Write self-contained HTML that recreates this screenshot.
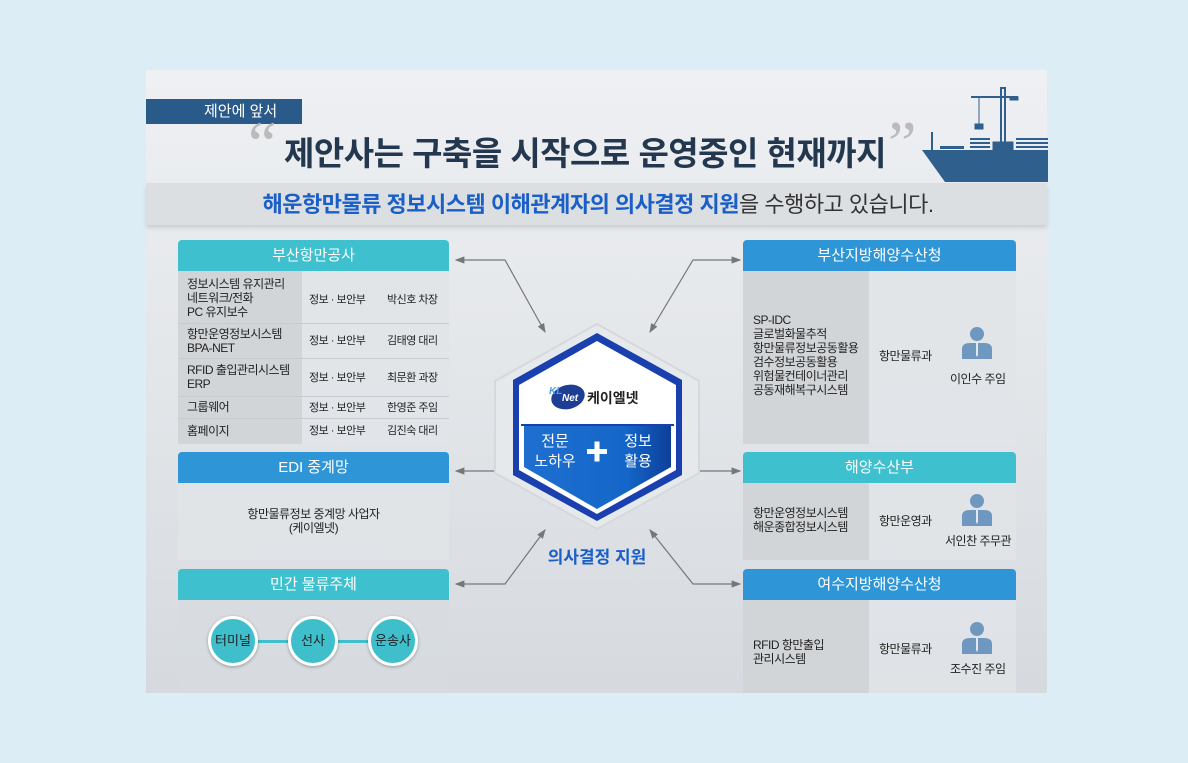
<!DOCTYPE html>
<html><head><meta charset="utf-8"><style>
*{margin:0;padding:0;box-sizing:border-box}
body{width:1188px;height:763px;background:#dcedf5;font-family:"Liberation Sans","Noto Sans CJK KR",sans-serif;position:relative;overflow:hidden}
.card{position:absolute;left:146px;top:70px;width:901px;height:623px;background:linear-gradient(180deg,#eef0f3 0%,#e4e7ea 45%,#d6dadf 100%)}
.abs{position:absolute}
.hd{position:absolute;height:31px;color:#fff;font-size:15px;text-align:center;line-height:31px;border-radius:4px 4px 0 0}
.teal{background:#3fc0cf}.blue{background:#2e96d6}
.body{position:absolute;background:rgba(225,228,231,.85)}
.c1{position:absolute;background:#d2d5d8}
.t{position:absolute;font-size:12px;color:#222;line-height:14px;letter-spacing:-.5px}
.circ{position:absolute;width:50px;height:50px;border-radius:50%;background:#3fbfcc;border:3px solid #fff;color:#222;font-size:13px;text-align:center;line-height:44px;box-shadow:0 1px 3px rgba(0,0,0,.3)}
</style></head><body>
<div class="card"></div>
<div class="abs" style="left:146px;top:183px;width:901px;height:42px;background:#dcdfe2;box-shadow:0 3px 4px rgba(0,0,0,.12)"></div>
<div class="abs" style="left:146px;top:99px;width:156px;height:25px;background:#2a5a8a;color:#fff;font-size:15px;line-height:25px;padding-left:58px">제안에 앞서</div>
<div class="abs" style="left:248px;top:112px;color:#bbb;font-size:64px;font-family:'Liberation Serif',serif;line-height:64px">“</div>
<div class="abs" style="left:888px;top:112px;color:#bbb;font-size:64px;font-family:'Liberation Serif',serif;line-height:64px">”</div>
<div class="abs" style="left:250px;top:133px;width:670px;text-align:center;font-size:33px;font-weight:bold;color:#23384f;letter-spacing:-.5px;line-height:42px">제안사는 구축을 시작으로 운영중인 현재까지</div>
<div class="abs" style="left:148px;top:191px;width:900px;text-align:center;font-size:22px;line-height:28px;color:#333;letter-spacing:-.5px"><b style="color:#1a5ec8">해운항만물류 정보시스템 이해관계자의 의사결정 지원</b>을 수행하고 있습니다.</div>
<svg class="abs" style="left:900px;top:80px" width="148" height="105" viewBox="0 0 148 105">
<g fill="#2f5f8c" stroke="#2f5f8c">
<rect x="101" y="8" width="4" height="56" fill="none" stroke-width="2"/>
<line x1="71" y1="17" x2="118" y2="17" stroke-width="2"/><rect x="110" y="17" width="8" height="3"/>
<line x1="79" y1="17" x2="79" y2="44" stroke-width="1"/><rect x="75" y="44" width="8" height="5"/>
<rect x="93" y="62" width="20" height="10"/>
<line x1="32" y1="52" x2="32" y2="74" stroke-width="2"/>
<rect x="40" y="66" width="24" height="3" stroke="none"/>
<rect x="70" y="58" width="20" height="2" stroke="none"/><rect x="70" y="62" width="20" height="2" stroke="none"/><rect x="70" y="66" width="20" height="2" stroke="none"/>
<rect x="116" y="58" width="32" height="2" stroke="none"/><rect x="116" y="62" width="32" height="2" stroke="none"/><rect x="116" y="66" width="32" height="2" stroke="none"/>
<polygon points="22,70 148,70 148,102 45,102" stroke="none"/></g></svg>

<!-- left -->
<div class="hd teal" style="left:178px;top:240px;width:271px">부산항만공사</div>
<div class="body" style="left:178px;top:271px;width:271px;height:173px"></div>
<div class="c1" style="left:178px;top:271px;width:124px;height:173px"></div>
<div class="abs" style="left:178px;top:323px;width:271px;height:1px;background:#c8cbce"></div>
<div class="abs" style="left:178px;top:358px;width:271px;height:1px;background:#c8cbce"></div>
<div class="abs" style="left:178px;top:396px;width:271px;height:1px;background:#c8cbce"></div>
<div class="abs" style="left:178px;top:418px;width:271px;height:1px;background:#c8cbce"></div>
<div class="t" style="left:187px;top:277px">정보시스템 유지관리<br>네트워크/전화<br>PC 유지보수</div>
<div class="t" style="left:187px;top:327px">항만운영정보시스템<br>BPA-NET</div>
<div class="t" style="left:187px;top:363px">RFID 출입관리시스템<br>ERP</div>
<div class="t" style="left:187px;top:400px">그룹웨어</div>
<div class="t" style="left:187px;top:424px">홈페이지</div>
<div class="t" style="left:309px;top:293px;font-size:11px">정보 · 보안부</div><div class="t" style="left:387px;top:293px;font-size:11px">박신호 차장</div>
<div class="t" style="left:309px;top:334px;font-size:11px">정보 · 보안부</div><div class="t" style="left:387px;top:334px;font-size:11px">김태영 대리</div>
<div class="t" style="left:309px;top:371px;font-size:11px">정보 · 보안부</div><div class="t" style="left:387px;top:371px;font-size:11px">최문환 과장</div>
<div class="t" style="left:309px;top:401px;font-size:11px">정보 · 보안부</div><div class="t" style="left:387px;top:401px;font-size:11px">한영준 주임</div>
<div class="t" style="left:309px;top:424px;font-size:11px">정보 · 보안부</div><div class="t" style="left:387px;top:424px;font-size:11px">김진숙 대리</div>

<div class="hd blue" style="left:178px;top:452px;width:271px">EDI 중계망</div>
<div class="body" style="left:178px;top:483px;width:271px;height:77px"></div>
<div class="t" style="left:178px;top:507px;width:271px;text-align:center">항만물류정보 중계망 사업자<br>(케이엘넷)</div>

<div class="hd teal" style="left:178px;top:569px;width:271px">민간 물류주체</div>
<div class="body" style="left:178px;top:600px;width:271px;height:93px;background:rgba(215,219,223,.7)"></div>
<div class="abs" style="left:250px;top:640px;width:130px;height:3px;background:#3fbfcc"></div>
<div class="circ" style="left:208px;top:616px">터미널</div>
<div class="circ" style="left:288px;top:616px">선사</div>
<div class="circ" style="left:368px;top:616px">운송사</div>

<!-- right -->
<div class="hd blue" style="left:743px;top:240px;width:273px">부산지방해양수산청</div>
<div class="body" style="left:743px;top:271px;width:273px;height:173px"></div>
<div class="c1" style="left:743px;top:271px;width:126px;height:173px"></div>
<div class="t" style="left:753px;top:313px">SP-IDC<br>글로벌화물추적<br>항만물류정보공동활용<br>검수정보공동활용<br>위험물컨테이너관리<br>공동재해복구시스템</div>
<div class="t" style="left:879px;top:349px">항만물류과</div>
<div class="t" style="left:950px;top:372px">이인수 주임</div>

<div class="hd teal" style="left:743px;top:452px;width:273px">해양수산부</div>
<div class="body" style="left:743px;top:483px;width:273px;height:77px"></div>
<div class="c1" style="left:743px;top:483px;width:126px;height:77px"></div>
<div class="t" style="left:753px;top:506px">항만운영정보시스템<br>해운종합정보시스템</div>
<div class="t" style="left:879px;top:514px">항만운영과</div>
<div class="t" style="left:945px;top:534px">서인찬 주무관</div>

<div class="hd blue" style="left:743px;top:569px;width:273px">여수지방해양수산청</div>
<div class="body" style="left:743px;top:600px;width:273px;height:93px"></div>
<div class="c1" style="left:743px;top:600px;width:126px;height:93px"></div>
<div class="t" style="left:753px;top:638px">RFID 항만출입<br>관리시스템</div>
<div class="t" style="left:879px;top:642px">항만물류과</div>
<div class="t" style="left:950px;top:662px">조수진 주임</div>

<svg class="abs" style="left:0;top:0" width="1188" height="763">
<defs>
<marker id="a" markerWidth="8" markerHeight="8" refX="7" refY="4" orient="auto-start-reverse"><path d="M0,1 L8,4 L0,7z" fill="#777"/></marker>
<linearGradient id="bl" x1="0" y1="0" x2="1" y2="0"><stop offset="0" stop-color="#1e6fd0"/><stop offset=".7" stop-color="#1466c8"/><stop offset="1" stop-color="#0d3f9a"/></linearGradient>
<g id="p"><circle cx="17" cy="9" r="7" fill="#6f98c0"/><path d="M2,34 L2,24 Q2,18 10,18 L24,18 Q32,18 32,24 L32,34z" fill="#6f98c0"/><path d="M16,18 L18,18 L18,30 L17,32 L16,30z" fill="#e5e8eb"/></g>
</defs>
<use href="#p" x="960" y="325"/><use href="#p" x="960" y="492"/><use href="#p" x="960" y="620"/>
<g stroke="#777" stroke-width="1.2" fill="none">
<polyline points="456,260 505,260 545,332" marker-start="url(#a)" marker-end="url(#a)"/>
<polyline points="740,260 693,260 650,332" marker-start="url(#a)" marker-end="url(#a)"/>
<line x1="456" y1="471" x2="507" y2="471" marker-start="url(#a)" marker-end="url(#a)"/>
<line x1="740" y1="471" x2="689" y2="471" marker-start="url(#a)" marker-end="url(#a)"/>
<polyline points="456,584 505,584 545,530" marker-start="url(#a)" marker-end="url(#a)"/>
<polyline points="740,584 693,584 650,530" marker-start="url(#a)" marker-end="url(#a)"/>
</g>
<polygon points="597,324 699,381 699,473 597,529 495,473 495,381" fill="#e6e9ec" stroke="#d6d9dc" stroke-width="2"/>
<polygon points="597,333 682,380 682,475 597,521 513,475 513,380" fill="#1a3fae"/>
<polygon points="597,341 676,385 676,470 597,514 519,470 519,385" fill="#fff"/>
<polygon points="524,425 671,425 671,467 597,509 524,467" fill="url(#bl)"/>
<rect x="521" y="424" width="153" height="2" fill="#1a3fae"/>
<ellipse cx="568" cy="397" rx="17" ry="12" fill="#1e3e95" transform="rotate(-15 568 397)"/>
<text x="549" y="394" font-family="Liberation Sans,sans-serif" font-size="10" font-weight="bold" font-style="italic" fill="#4aa0e8">KL</text>
<text x="562" y="401" font-family="Liberation Sans,sans-serif" font-size="10" font-weight="bold" font-style="italic" fill="#fff">Net</text>
<text x="587" y="403" font-family="Liberation Sans,Noto Sans CJK KR,sans-serif" font-size="14" font-weight="bold" fill="#222">케이엘넷</text>
<g font-family="Liberation Sans,Noto Sans CJK KR,sans-serif" font-size="15" fill="#fff" text-anchor="middle">
<text x="555" y="446">전문</text><text x="555" y="466">노하우</text>
<text x="638" y="446">정보</text><text x="638" y="466">활용</text></g>
<rect x="587" y="449" width="20" height="5" fill="#fff"/><rect x="594.5" y="441.5" width="5" height="20" fill="#fff"/>
<text x="597" y="563" text-anchor="middle" font-family="Liberation Sans,Noto Sans CJK KR,sans-serif" font-size="17" font-weight="bold" fill="#1a5ec8">의사결정 지원</text>
</svg>
</body></html>
